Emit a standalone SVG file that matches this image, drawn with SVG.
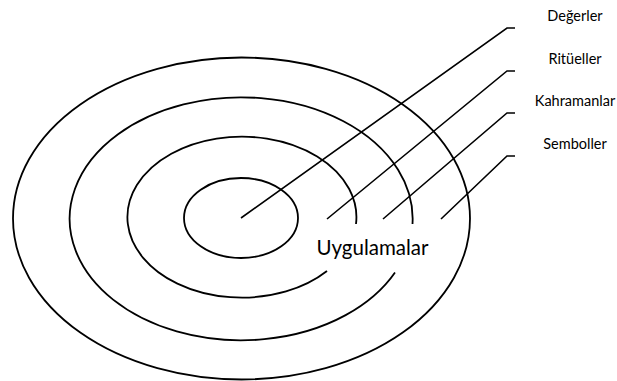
<svg xmlns="http://www.w3.org/2000/svg" width="617" height="381" viewBox="0 0 617 381">
<style>
.ring{fill:none;stroke:#000;stroke-width:1.8}
.conn{fill:none;stroke:#000;stroke-width:1.6}
.lbl{font-family:Lato,"Open Sans",sans-serif;font-size:14.5px;fill:#000;text-anchor:middle}
.big{font-family:Lato,"Open Sans",sans-serif;font-size:20.5px;fill:#000;text-anchor:middle}
</style>
<rect width="617" height="381" fill="#fff"/>
<g id="ring-outer"><ellipse class="ring" cx="241.5" cy="218.5" rx="228.5" ry="161"/></g>
<g id="ring-third"><path class="ring" d="M 395 272.5 A 171.5 121.5 0 1 1 412.5 224"/></g>
<g id="ring-second"><path class="ring" d="M 327 271 A 114.5 80.5 0 1 1 356 224"/></g>
<g id="ring-inner"><ellipse class="ring" cx="241" cy="218" rx="57" ry="40"/></g>
<g id="connectors">
<polyline class="conn" points="241,218 507,28 515,28"/>
<polyline class="conn" points="327,219 507,71 515,71"/>
<polyline class="conn" points="383,219 507,113 515,113"/>
<polyline class="conn" points="441,219 507,156 515,156"/>
</g>
<g id="label-degerler"><text class="lbl" x="575" y="21">Değerler</text></g>
<g id="label-ritueller"><text class="lbl" x="575" y="64">Ritüeller</text></g>
<g id="label-kahramanlar"><text class="lbl" x="575" y="106">Kahramanlar</text></g>
<g id="label-semboller"><text class="lbl" x="575" y="149">Semboller</text></g>
<g id="label-uygulamalar"><text class="big" x="372.5" y="255">Uygulamalar</text></g>
</svg>
